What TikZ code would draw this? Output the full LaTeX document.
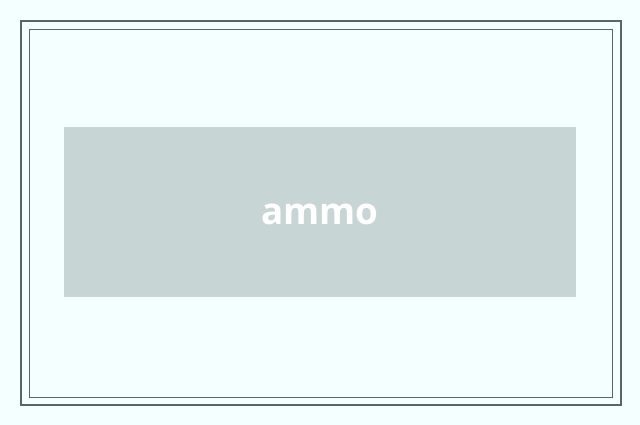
\documentclass[tikz,border=0pt]{standalone}
\usepackage{fontspec}
\setmainfont{Open Sans}
\definecolor{bgc}{HTML}{F4FFFF}
\definecolor{framec}{HTML}{5A6666}
\definecolor{boxc}{HTML}{C8D5D5}
\tikzset{frame/.style={draw=framec,line width=1.3pt}}
\begin{document}
\begin{tikzpicture}[x=1pt,y=-1pt]
\useasboundingbox (0,0) rectangle (640,425);
\fill[bgc] (0,0) rectangle (640,425);
\draw[frame,line width=1.6pt] (21,21) rectangle (621,405);
\draw[frame,line width=0.9pt] (29,29) rectangle (612,397);
\node[fill=boxc,minimum width=512pt,minimum height=170pt,inner sep=0pt] (box) at (320,212) {};
\node[text=white,font=\bfseries\fontsize{36.8}{42}\selectfont] (lbl) at ([yshift=-2pt]box.center) {ammo};
\end{tikzpicture}
\end{document}
